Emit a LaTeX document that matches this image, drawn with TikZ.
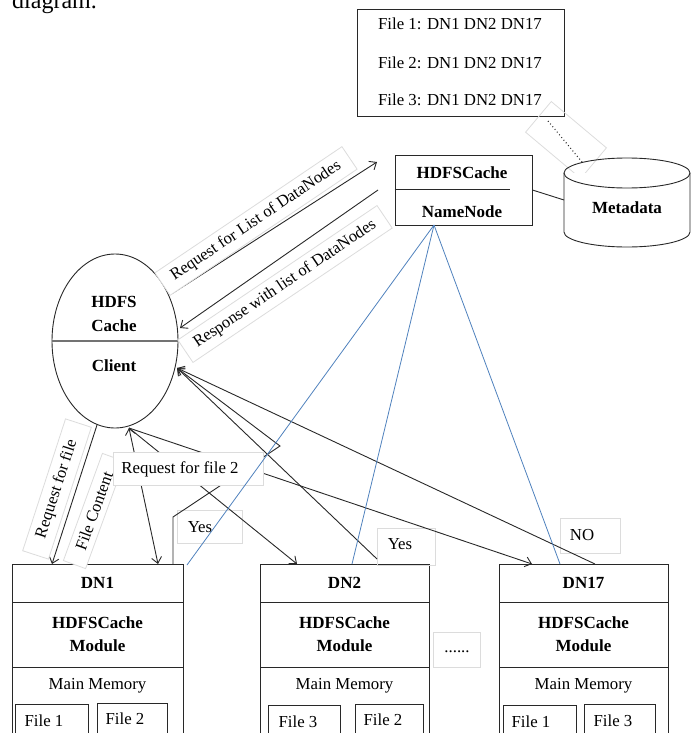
\documentclass[tikz,border=0pt]{standalone}
\usepackage{fontspec}
\setmainfont{Liberation Serif}
\usetikzlibrary{arrows.meta,shapes.geometric}
\definecolor{nnblue}{RGB}{79,129,189}
\definecolor{edge}{RGB}{40,40,40}
\definecolor{faintc}{RGB}{220,220,220}
\begin{document}
\begin{tikzpicture}[x=1pt,y=-1pt,
  txt/.style={font=\fontsize{16.8}{19}\selectfont, inner sep=0pt},
  bt/.style={font=\fontsize{17}{19}\selectfont\bfseries, inner sep=0pt},
  box/.style={draw=edge, line width=0.9pt, inner sep=0pt},
  lbl/.style={draw=faintc, line width=0.8pt, fill=white, font=\fontsize{16.5}{19}\selectfont},
  tag/.style={draw=faintc, line width=0.8pt, inner sep=0pt},
  plain/.style={draw=edge, line width=0.9pt},
  arr/.style={draw=edge, line width=0.9pt, -{Straight Barb[length=6pt,width=10pt]}},
  arrtwo/.style={draw=edge, line width=0.9pt, {Straight Barb[length=6pt,width=10pt]}-{Straight Barb[length=6pt,width=10pt]}},
  bl/.style={draw=nnblue, line width=0.8pt},
]
\useasboundingbox (0,0) rectangle (697,733);
\clip (0,0) rectangle (697,733);

% caption fragment
\node[txt, anchor=base west, font=\fontsize{24}{28}\selectfont] (cap) at (12,9) {diagram.};

% file list box
\node[box, minimum width=207pt, minimum height=107pt] (flist) at (460.5,62.5) {};
\node[txt] (fl1) at (460,24) {File 1: DN1 DN2 DN17};
\node[txt] (fl2) at (460,63) {File 2: DN1 DN2 DN17};
\node[txt] (fl3) at (460,100) {File 3: DN1 DN2 DN17};

% faint box around dotted link
\node[tag, rotate=-40, minimum width=72pt, minimum height=40pt] (dotsbox) at (566,140) {};
\coordinate (dA) at (548,121);
\coordinate (metaN) at (582,162);
\draw[draw=edge, line width=1.1pt, dash pattern=on 0.9pt off 2.6pt] (dA) -- (metaN);

% Metadata cylinder
\draw[box, fill=white] (564,173) -- (564,232) arc[start angle=180, end angle=0, x radius=63, y radius=15] -- (690,173);
\draw[box] (627,173) ellipse[x radius=63, y radius=15];
\node[bt] (meta) at (627,208) {Metadata};
\coordinate (metaW) at (564,200);

% NameNode
\node[box, minimum width=137pt, minimum height=70pt] (nn) at (463.5,190) {};
\draw[plain] ([yshift=1pt]nn.west) -- ++(115,0);
\node[bt] (nnt1) at (462,173) {HDFSCache};
\node[bt] (nnt2) at (462,212) {NameNode};
\draw[plain] (nn.east) -- (metaW);

% Client
\node[ellipse, draw=edge, line width=0.9pt, minimum width=126pt, minimum height=174pt, inner sep=0pt] (cl) at (115,341) {};
\draw[draw=black!55, line width=1.6pt] (cl.west) -- (cl.east);
\node[bt] (clt1) at (114,302) {HDFS};
\node[bt] (clt2) at (114,326) {Cache};
\node[bt] (clt3) at (114,366) {Client};

% DN1
\node[box, anchor=north west, minimum width=171pt, minimum height=190pt] (dn1) at (12,564) {};
\draw[plain] ([yshift=-38pt]dn1.north west) -- ([yshift=-38pt]dn1.north east);
\draw[plain] ([yshift=-103pt]dn1.north west) -- ([yshift=-103pt]dn1.north east);
\node[bt] (dn1t) at (97.5,583) {DN1};
\node[bt] (dn1a) at (97.5,623) {HDFSCache};
\node[bt] (dn1b) at (97.5,646) {Module};
\node[txt] (dn1c) at (97.5,686) {Main Memory};
\node[box, anchor=north west, minimum width=73pt, minimum height=40pt] (dn1f1) at (15,704) {};
\node[box, anchor=north west, minimum width=70pt, minimum height=40pt] (dn1f2) at (97,703) {};
\node[txt] (dn1f1t) at (44,721) {File 1};
\node[txt] (dn1f2t) at (125,719) {File 2};

% DN2
\node[box, anchor=north west, minimum width=169pt, minimum height=190pt] (dn2) at (260,564) {};
\draw[plain] ([yshift=-38pt]dn2.north west) -- ([yshift=-38pt]dn2.north east);
\draw[plain] ([yshift=-103pt]dn2.north west) -- ([yshift=-103pt]dn2.north east);
\node[bt] (dn2t) at (344.5,583) {DN2};
\node[bt] (dn2a) at (344.5,623) {HDFSCache};
\node[bt] (dn2b) at (344.5,646) {Module};
\node[txt] (dn2c) at (344.5,686) {Main Memory};
\node[box, anchor=north west, minimum width=72pt, minimum height=40pt] (dn2f1) at (268,705) {};
\node[box, anchor=north west, minimum width=68pt, minimum height=40pt] (dn2f2) at (355,704) {};
\node[txt] (dn2f1t) at (298,722) {File 3};
\node[txt] (dn2f2t) at (383,720) {File 2};

% DN17
\node[box, anchor=north west, minimum width=169pt, minimum height=190pt] (dn17) at (499,564) {};
\draw[plain] ([yshift=-38pt]dn17.north west) -- ([yshift=-38pt]dn17.north east);
\draw[plain] ([yshift=-103pt]dn17.north west) -- ([yshift=-103pt]dn17.north east);
\node[bt] (dn17t) at (583.5,583) {DN17};
\node[bt] (dn17a) at (583.5,623) {HDFSCache};
\node[bt] (dn17b) at (583.5,646) {Module};
\node[txt] (dn17c) at (583.5,686) {Main Memory};
\node[box, anchor=north west, minimum width=73pt, minimum height=40pt] (dn17f1) at (503,705) {};
\node[box, anchor=north west, minimum width=71pt, minimum height=40pt] (dn17f2) at (584,704) {};
\node[txt] (dn17f1t) at (531,722) {File 1};
\node[txt] (dn17f2t) at (613,721) {File 3};

% small tag boxes
\node[tag, minimum width=65pt, minimum height=33pt] (yes1) at (209.5,526.5) {};
\node[txt] (yes1t) at (200,527) {Yes};
\node[tag, minimum width=58pt, minimum height=37pt] (yes2) at (406,546.5) {};
\node[txt] (yes2t) at (400,544) {Yes};
\node[tag, minimum width=60pt, minimum height=35pt] (notag) at (590,535.5) {};
\node[txt] (notagt) at (582,535) {NO};
\node[tag, minimum width=47pt, minimum height=35pt] (dots) at (456.5,649.5) {};
\node[txt] (dotst) at (457,652) {......};

% connector end points
\coordinate (cA) at (173,293);
\coordinate (nnA) at (377,162);
\coordinate (nnB) at (378,190);
\coordinate (cB) at (180,328);
\coordinate (cC) at (97,425);
\coordinate (cD) at (129,428);
\coordinate (cE) at (177,368);
\coordinate (d1a) at (52,564);
\coordinate (d1b) at (158,564);
\coordinate (d1c) at (173,564);
\coordinate (d2a) at (297,564);
\coordinate (d2b) at (377,559);
\coordinate (d17a) at (532,564);
\coordinate (d17b) at (595,564);
\coordinate (nnS) at (434,225);
\coordinate (d1s) at (187,565);
\coordinate (d2s) at (352,564);
\coordinate (d17s) at (560,564);

% black arrows
\draw[arr] (cA) -- (nnA);
\draw[arr] (nnB) -- (cB);
\draw[arr] (cC) -- (d1a);
\draw[arrtwo] (cD) -- (d1b);
\draw[arr] (cD) -- (d2a);
\draw[arr] (cD) -- (d17a);
\draw[arr] (d1c) -- (173,517) -- (280,446) -- (cE);
\draw[arr] (d2b) -- (cE);
\draw[arr] (d17b) -- (cE);

% labels with white background
\node[lbl, rotate=34, inner xsep=12pt, inner ysep=6pt] (lreq) at (256,221) {Request for List of DataNodes};
\node[lbl, rotate=34, inner xsep=12pt, inner ysep=6pt] (lresp) at (285,284) {Response with list of DataNodes};
\node[lbl, rotate=72, inner xsep=18pt, inner ysep=6pt] (lrf) at (57,489) {Request for file};
\node[lbl, rotate=70, inner xsep=16pt, inner ysep=6pt] (lfc) at (94,511) {File Content};
\node[lbl, minimum width=150pt, minimum height=33pt, inner sep=0pt] (lrf2) at (188,468.5) {};
\node[txt] (lrf2t) at (180,469) {Request for file 2};

% blue lines from NameNode
\draw[bl] (nnS) -- (d1s);
\draw[bl] (nnS) -- (d2s);
\draw[bl] (nnS) -- (d17s);
\end{tikzpicture}
\end{document}
